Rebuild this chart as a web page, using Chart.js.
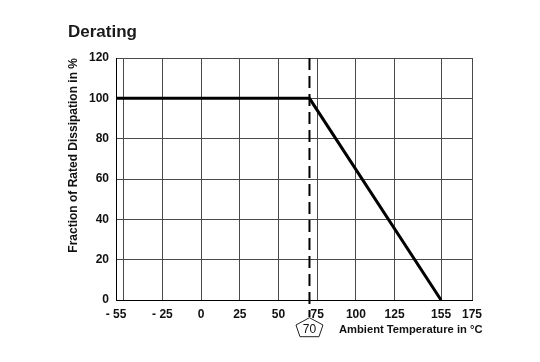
<!DOCTYPE html>
<html>
<head>
<meta charset="utf-8">
<script src="https://cdn.jsdelivr.net/npm/chart.js@4.4.1/dist/chart.umd.min.js"></script>
<style>
  html, body { margin: 0; padding: 0; background: #fff; }
  #wrap { width: 540px; height: 362px; }
</style>
</head>
<body>
<div id="wrap"><canvas id="derating" width="540" height="362"></canvas></div>
<script>
// derating curve: temperature in degC vs fraction of rated dissipation in %
const tempPoints = [-55, 70, 155];
const ratedPct = [100, 100, 0];
const kneeTemp = 70;

const xTickValues = [-55, -50, -25, 0, 25, 50, 75, 100, 125, 155, 175];
const xTickLabels = ['- 55', '', '- 25', '0', '25', '50', '75', '100', '125', '155', '175'];
const yTickValues = [0, 20, 40, 60, 80, 100, 120];

const fontFamily = 'Liberation Sans, Arial, Helvetica, sans-serif';

// dashed marker at the knee temperature with the pentagon label and the x title
const kneeMarker = {
  id: 'kneeMarker',
  afterDatasetsDraw(chart) {
    const ctx = chart.ctx;
    const x = chart.scales.x.getPixelForValue(kneeTemp);
    const top = chart.scales.y.getPixelForValue(120);
    const bottom = chart.chartArea.bottom;

    ctx.save();
    ctx.strokeStyle = '#000';
    ctx.lineWidth = 2;
    ctx.setLineDash([12, 6]);
    ctx.beginPath();
    ctx.moveTo(x, top);
    ctx.lineTo(x, bottom + 17);
    ctx.stroke();
    ctx.setLineDash([]);

    // pentagon
    ctx.lineWidth = 1;
    ctx.strokeStyle = '#222';
    ctx.beginPath();
    ctx.moveTo(x, bottom + 17.7);
    ctx.lineTo(x + 13.5, bottom + 25);
    ctx.lineTo(x + 9.5, bottom + 36.7);
    ctx.lineTo(x - 9.5, bottom + 36.7);
    ctx.lineTo(x - 13.5, bottom + 25);
    ctx.closePath();
    ctx.stroke();

    ctx.fillStyle = '#111';
    ctx.font = '12px ' + fontFamily;
    ctx.textAlign = 'center';
    ctx.textBaseline = 'alphabetic';
    ctx.fillText(String(kneeTemp), x, bottom + 33);

    ctx.font = 'bold 11.2px ' + fontFamily;
    ctx.textAlign = 'left';
    ctx.fillText('Ambient Temperature in \u00B0C', x + 29.5, bottom + 33);
    ctx.restore();
  }
};

new Chart(document.getElementById('derating'), {
  type: 'scatter',
  data: {
    datasets: [{
      data: tempPoints.map((t, i) => ({ x: t, y: ratedPct[i] })),
      showLine: true,
      borderColor: '#000',
      borderWidth: 3,
      pointRadius: 0,
      borderCapStyle: 'butt',
      borderJoinStyle: 'miter'
    }]
  },
  options: {
    responsive: false,
    animation: false,
    layout: { padding: { left: 68, right: 68, top: 0, bottom: 0 } },
    plugins: {
      legend: { display: false },
      tooltip: { enabled: false },
      title: {
        display: true,
        text: 'Derating',
        align: 'start',
        color: '#1a1a1a',
        font: { family: fontFamily, size: 17, weight: 'bold' },
        padding: { top: 21.8, bottom: 15.8 }
      }
    },
    scales: {
      x: {
        type: 'linear',
        min: -55,
        max: 175,
        afterBuildTicks(scale) {
          scale.ticks = xTickValues.map(v => ({ value: v }));
        },
        afterFit(scale) { scale.height = 62; },
        grid: { color: '#4a4a4a', lineWidth: 1, drawTicks: false },
        border: { color: '#000', width: 1 },
        ticks: {
          autoSkip: false,
          maxRotation: 0,
          padding: 7,
          color: '#111',
          font: { family: fontFamily, size: 12, weight: 'bold' },
          callback: (value, index) => xTickLabels[index]
        }
      },
      y: {
        min: 0,
        max: 120,
        afterBuildTicks(scale) {
          scale.ticks = yTickValues.map(v => ({ value: v }));
        },
        afterFit(scale) { scale.width = 116 - 68; },
        grid: { color: '#4a4a4a', lineWidth: 1, drawTicks: false },
        border: { color: '#000', width: 1 },
        ticks: {
          padding: 7,
          color: '#111',
          font: { family: fontFamily, size: 12, weight: 'bold' }
        },
        title: {
          display: true,
          text: 'Fraction of Rated Dissipation in %',
          align: 'end',
          color: '#111',
          font: { family: fontFamily, size: 12, weight: 'bold' },
          padding: { top: -2, bottom: 0 }
        }
      }
    }
  },
  plugins: [kneeMarker]
});
</script>
</body>
</html>
